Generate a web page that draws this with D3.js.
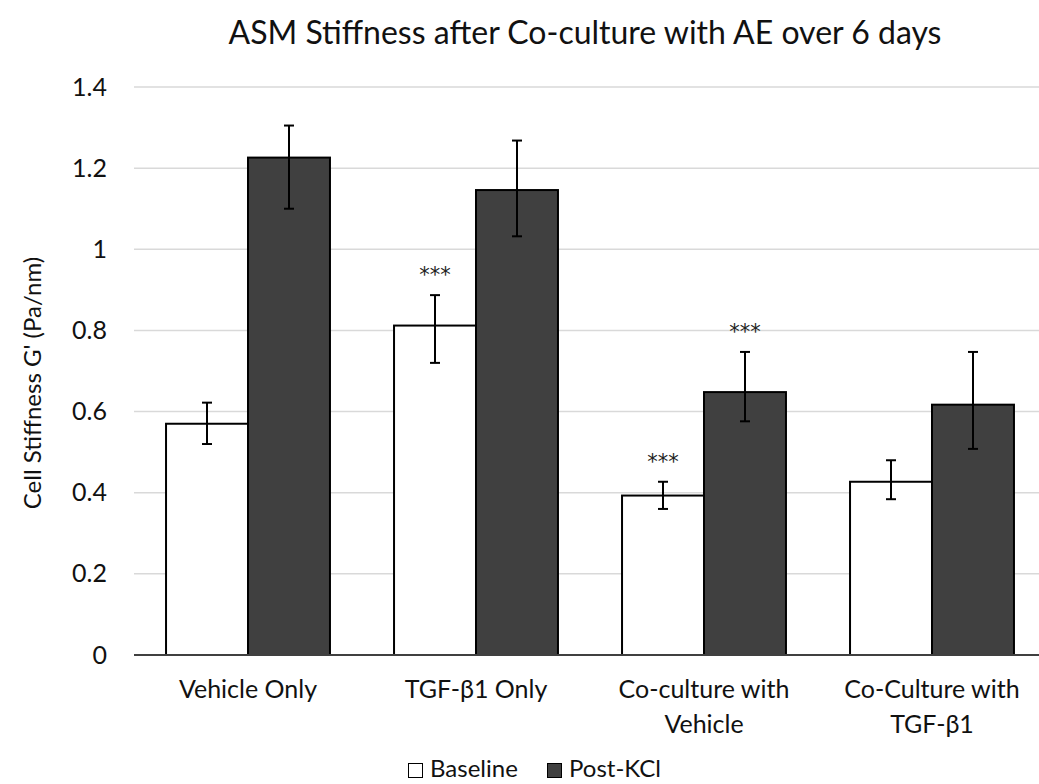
<!DOCTYPE html>
<html>
<head>
<meta charset="utf-8">
<script src="https://cdn.jsdelivr.net/npm/d3@7"></script>
<style>
  html, body { margin: 0; padding: 0; background: #fff; }
  svg { display: block; font-family: Lato, "Open Sans", sans-serif; }
</style>
</head>
<body>
<svg id="chart" width="1039" height="784"></svg>
<script>
// Groups along the x axis (each label split into display lines)
const categories = ["Vehicle Only", "TGF-β1 Only", "Co-culture with Vehicle", "Co-Culture with TGF-β1"];
const categoryLines = [["Vehicle Only"], ["TGF-β1 Only"], ["Co-culture with", "Vehicle"], ["Co-Culture with", "TGF-β1"]];
const seriesNames = ["Baseline", "Post-KCl"];

// Mean stiffness G' (Pa/nm)
const baseline = [0.570, 0.812, 0.393, 0.427];
const postKCl  = [1.226, 1.146, 0.648, 0.617];

// Error bar extents (upper / lower)
const baselinePlus  = [0.052, 0.075, 0.034, 0.053];
const baselineMinus = [0.050, 0.092, 0.033, 0.043];
const postPlus      = [0.079, 0.122, 0.099, 0.130];
const postMinus     = [0.126, 0.114, 0.072, 0.109];

// Significance markers
const baselineSig = ["", "***", "***", ""];
const postSig     = ["", "", "***", ""];

const yTicks = [0, 0.2, 0.4, 0.6, 0.8, 1, 1.2, 1.4];

const title = "ASM Stiffness after Co-culture with AE over 6 days";
const yTitle = "Cell Stiffness G' (Pa/nm)";

const seriesFill = { "Baseline": "#ffffff", "Post-KCl": "#404040" };
const textColor = "#111";

// Long-format records for drawing
const records = [];
categories.forEach((c, i) => {
  records.push({ cat: c, series: "Baseline", value: baseline[i], plus: baselinePlus[i], minus: baselineMinus[i], sig: baselineSig[i] });
  records.push({ cat: c, series: "Post-KCl", value: postKCl[i], plus: postPlus[i], minus: postMinus[i], sig: postSig[i] });
});

const svg = d3.select("#chart");
const plot = { left: 134, right: 1046, top: 87, bottom: 655 };

const x = d3.scaleBand()
  .domain(categories)
  .range([plot.left, plot.right])
  .paddingInner(0.281)
  .paddingOuter(0.1405);

const xSub = d3.scaleBand()
  .domain(seriesNames)
  .range([0, x.bandwidth()])
  .padding(0);

const y = d3.scaleLinear()
  .domain([0, 1.4])
  .range([plot.bottom, plot.top]);

// Title
svg.append("text")
  .attr("x", 585)
  .attr("y", 44)
  .attr("text-anchor", "middle")
  .attr("font-size", 32)
  .attr("fill", textColor)
  .text(title);

// Horizontal gridlines
svg.append("g")
  .selectAll("line")
  .data(yTicks.filter(t => t > 0))
  .join("line")
  .attr("x1", plot.left)
  .attr("x2", plot.right)
  .attr("y1", d => y(d))
  .attr("y2", d => y(d))
  .attr("stroke", "#d9d9d9")
  .attr("stroke-width", 1.5);

// Y axis tick labels (no axis line)
const yAxis = svg.append("g")
  .attr("transform", `translate(${plot.left},0)`)
  .call(d3.axisLeft(y).tickValues(yTicks).tickSize(0).tickPadding(27).tickFormat(d3.format("~g")));
yAxis.select(".domain").remove();
yAxis.selectAll("text")
  .attr("font-size", 25)
  .attr("font-family", "Lato, 'Open Sans', sans-serif")
  .attr("fill", textColor);

// Y axis title
svg.append("text")
  .attr("transform", "translate(41, 383) rotate(-90)")
  .attr("text-anchor", "middle")
  .attr("font-size", 24)
  .attr("fill", textColor)
  .text(yTitle);

// Bars
const barX = d => x(d.cat) + xSub(d.series);
svg.append("g")
  .selectAll("rect")
  .data(records)
  .join("rect")
  .attr("x", barX)
  .attr("y", d => y(d.value))
  .attr("width", xSub.bandwidth())
  .attr("height", d => y(0) - y(d.value))
  .attr("fill", d => seriesFill[d.series])
  .attr("stroke", "#000")
  .attr("stroke-width", 2);

// X axis baseline
svg.append("line")
  .attr("x1", plot.left)
  .attr("x2", plot.right)
  .attr("y1", y(0))
  .attr("y2", y(0))
  .attr("stroke", "#404040")
  .attr("stroke-width", 2);

// Error bars
const eb = svg.append("g").attr("stroke", "#000").attr("stroke-width", 2);
const cap = 5;
records.forEach(d => {
  const cx = barX(d) + xSub.bandwidth() / 2;
  const yHi = y(d.value + d.plus);
  const yLo = y(d.value - d.minus);
  eb.append("line").attr("x1", cx).attr("x2", cx).attr("y1", yHi).attr("y2", yLo);
  eb.append("line").attr("x1", cx - cap).attr("x2", cx + cap).attr("y1", yHi).attr("y2", yHi);
  eb.append("line").attr("x1", cx - cap).attr("x2", cx + cap).attr("y1", yLo).attr("y2", yLo);
});

// Significance asterisks above the error bars
svg.append("g")
  .selectAll("text")
  .data(records.filter(d => d.sig))
  .join("text")
  .attr("x", d => barX(d) + xSub.bandwidth() / 2)
  .attr("y", d => y(d.value + d.plus) - 13)
  .attr("text-anchor", "middle")
  .attr("font-family", "'DejaVu Sans', sans-serif")
  .attr("font-size", 21)
  .attr("fill", "#222")
  .text(d => d.sig);

// Category labels
const catG = svg.append("g");
categories.forEach((c, i) => {
  const t = catG.append("text")
    .attr("x", x(c) + x.bandwidth() / 2)
    .attr("y", 698)
    .attr("text-anchor", "middle")
    .attr("font-size", 25)
    .attr("fill", textColor);
  categoryLines[i].forEach((line, j) => {
    t.append("tspan")
      .attr("x", x(c) + x.bandwidth() / 2)
      .attr("dy", j === 0 ? 0 : 35)
      .text(line);
  });
});

// Legend
const legendItems = [
  { name: seriesNames[0], x: 408 },
  { name: seriesNames[1], x: 547 }
];
const lg = svg.append("g");
legendItems.forEach(item => {
  lg.append("rect")
    .attr("x", item.x + 0.5)
    .attr("y", 763.5)
    .attr("width", 14)
    .attr("height", 14)
    .attr("fill", seriesFill[item.name])
    .attr("stroke", "#000")
    .attr("stroke-width", 1);
  lg.append("text")
    .attr("x", item.x + 22)
    .attr("y", 777)
    .attr("font-size", 24)
    .attr("fill", textColor)
    .text(item.name);
});
</script>
</body>
</html>
